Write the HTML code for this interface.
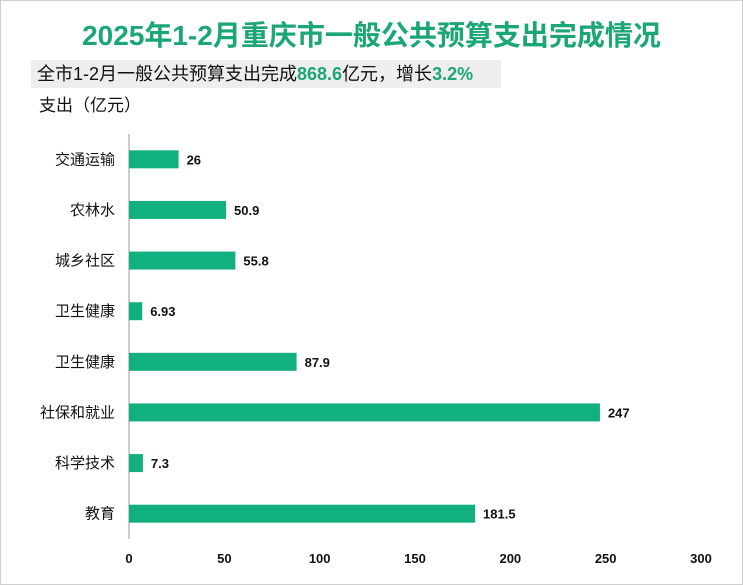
<!DOCTYPE html>
<html><head><meta charset="utf-8"><style>
body{margin:0;background:#fff;}
#wrap{position:relative;width:741px;height:583px;border:1px solid #cfcfcf;font-family:"Liberation Sans","Noto Sans CJK SC",sans-serif;overflow:hidden;}
#title{position:absolute;left:0;width:741px;top:13px;text-align:center;font-size:28px;font-weight:bold;color:#1ba675;}
#sub{position:absolute;left:30px;top:59px;width:470px;height:28px;background:#eeeeee;font-size:18px;line-height:28px;padding-left:6px;box-sizing:border-box;color:#111;white-space:nowrap;}
#sub b{color:#1ba675;}
#unit{position:absolute;left:38px;top:90px;font-size:17px;color:#111;}
</style></head><body>
<div id="wrap">
<div id="title">2025年1-2月重庆市一般公共预算支出完成情况</div>
<div id="sub">全市1-2月一般公共预算支出完成<b>868.6</b>亿元，增长<b>3.2%</b></div>
<div id="unit">支出（亿元）</div>
<svg id="chart" width="741" height="583" style="position:absolute;left:0;top:0"></svg>
</div>
<script>
const categories=["交通运输","农林水","城乡社区","卫生健康","卫生健康","社保和就业","科学技术","教育"];
const values=[26,50.9,55.8,6.93,87.9,247,7.3,181.5];
const labels=["26","50.9","55.8","6.93","87.9","247","7.3","181.5"];
const ticks=[0,50,100,150,200,250,300];
const svg=document.getElementById('chart');
const NS='http://www.w3.org/2000/svg';
const x0=128,x1=700,y0=133,y1=538;
const xs=v=>x0+(v-0)/(300-0)*(x1-x0);
const band=(y1-y0)/categories.length;
const yc=i=>y0+band*(i+0.5);
function mk(t,a){const e=document.createElementNS(NS,t);for(const k in a)e.setAttribute(k,a[k]);svg.appendChild(e);return e;}
let ax=mk('line',{x1:x0,x2:x0,y1:y0,y2:y1,stroke:'#999','stroke-width':1});


categories.forEach((c,i)=>{
 const r=mk('rect',{x:x0,y:yc(i)-9,width:xs(values[i])-x0,height:18,fill:'#13b07f'});
 
 
 const t=mk('text',{x:x0-14,y:yc(i)+5,'text-anchor':'end','font-size':15,fill:'#111'});
 t.textContent=c;
 
 
 const v=mk('text',{x:xs(values[i])+8,y:yc(i)+5,'font-size':13,'font-weight':'bold',fill:'#111'});
 v.textContent=labels[i];
 
 
});
ticks.forEach(t=>{
 const e=mk('text',{x:xs(t),y:562,'text-anchor':'middle','font-size':13,'font-weight':'bold',fill:'#111'});
 e.textContent=t;
 
 
});
</script>
</body></html>
